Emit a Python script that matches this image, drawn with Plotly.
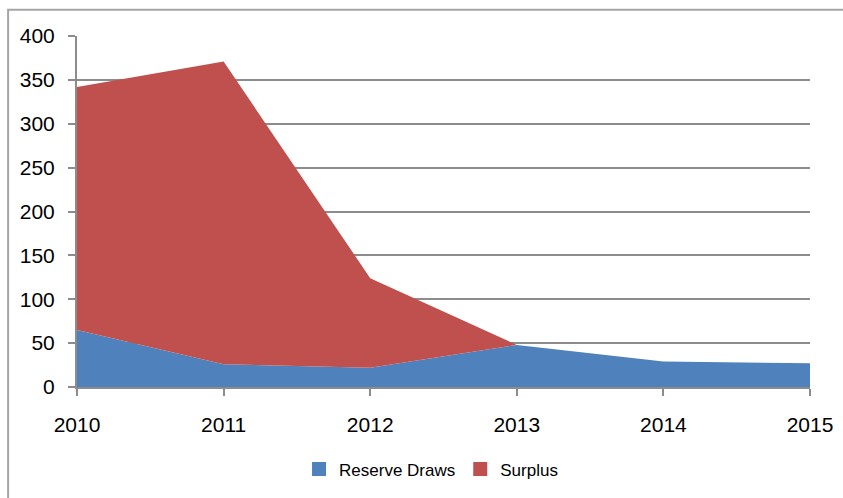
import plotly.graph_objects as go

years = [2010, 2011, 2012, 2013, 2014, 2015]
reserve_draws = [65, 26, 22, 48, 29, 27]
surplus = [277, 345, 102, 0, 0, 0]
series_names = ["Reserve Draws", "Surplus"]
colors = ["#4F81BD", "#C0504D"]
y_ticks = [0, 50, 100, 150, 200, 250, 300, 350, 400]

fig = go.Figure()
for name, vals, col in zip(series_names, [reserve_draws, surplus], colors):
    fig.add_trace(go.Scatter(
        x=years, y=vals, stackgroup="one", mode="none",
        fillcolor=col, name=name, showlegend=False, hoverinfo="x+y+name",
    ))
for name, col in zip(series_names, colors):
    fig.add_trace(go.Scatter(
        x=[None], y=[None], mode="markers", name=name,
        marker=dict(symbol="square", size=14, color=col),
    ))

grid = "#8C8C8C"
fig.update_layout(
    width=843, height=498,
    margin=dict(l=77, r=33, t=36, b=111, autoexpand=False),
    paper_bgcolor="white", plot_bgcolor="white",
    font=dict(family="Liberation Sans", size=21, color="#000000"),
    xaxis=dict(
        range=[2010, 2015], tickmode="array", tickvals=years,
        ticktext=[str(y) for y in years],
        showgrid=False, showline=True, linecolor=grid, linewidth=2,
        ticks="outside", ticklen=7, tickcolor=grid, tickwidth=2,
        ticklabelstandoff=11, zeroline=False, automargin=False,
    ),
    yaxis=dict(
        range=[0, 400], tickmode="array", tickvals=y_ticks,
        showgrid=True, gridcolor=grid, gridwidth=2,
        showline=True, linecolor=grid, linewidth=2,
        ticks="outside", ticklen=7, tickcolor=grid, tickwidth=2,
        ticklabelstandoff=9, zeroline=False, automargin=False,
    ),
    legend=dict(
        orientation="h", x=0.483, xanchor="center", y=-0.235, yanchor="middle",
        font=dict(size=17), traceorder="normal", itemwidth=30,
    ),
    shapes=[dict(
        type="rect", xref="paper", yref="paper",
        x0=-0.094, x1=1.2, y0=-0.5, y1=1.075,
        line=dict(color="#A6A6A6", width=2), fillcolor="rgba(0,0,0,0)",
        layer="below",
    )],
)

fig.write_html("out.html")
